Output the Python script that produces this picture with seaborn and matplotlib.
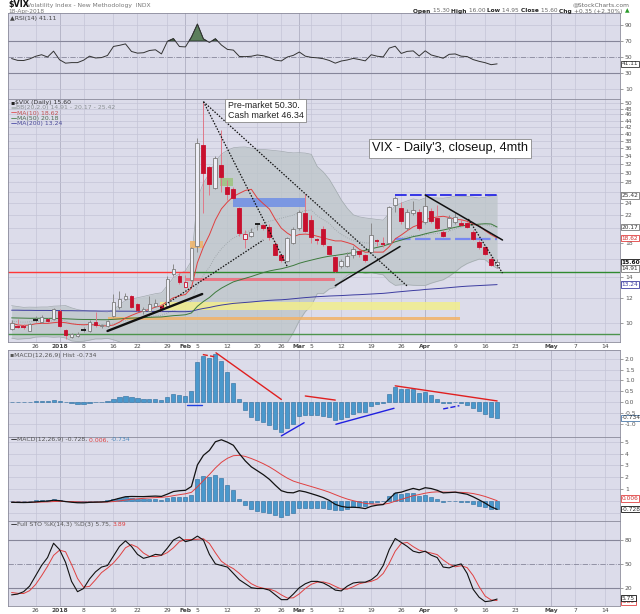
import numpy as np
import pandas as pd
import matplotlib
matplotlib.use("Agg")
import matplotlib.pyplot as plt
from matplotlib.ticker import NullLocator
import seaborn as sns

sns.set_style("white")
plt.rcParams['font.family'] = ['DejaVu Sans']

# ---------------- data (daily, 19 Dec 2017 .. 18 Apr 2018) ----------------
vix_open = [9.55, 9.76, 9.74, 9.45, 10.22, 10.05, 10.30, 10.30, 10.95, 9.50,
            9.05, 9.10, 9.50, 9.40, 10.10, 9.75, 9.75, 10.50, 11.20, 11.95,
            12.20, 11.50, 10.90, 10.95, 11.30, 11.35, 11.30, 14.30, 14.10, 13.05,
            13.70, 17.50, 36.70, 31.20, 26.90, 31.80, 27.00, 26.60, 23.20, 18.50,
            18.90, 20.55, 20.45, 20.20, 17.80, 16.40, 15.70, 17.90, 20.00, 22.30,
            21.20, 18.40, 19.90, 17.50, 16.20, 15.20, 15.20, 16.40, 16.90, 16.45,
            16.85, 18.25, 17.95, 17.90, 23.70, 23.20, 20.00, 22.40, 22.60, 21.00,
            22.70, 21.50, 19.50, 20.20, 21.00, 20.80, 20.80, 19.50, 18.10, 17.40,
            16.00, 15.30]
vix_high = [10.25, 10.30, 9.95, 10.00, 10.55, 10.60, 10.40, 11.15, 11.05, 9.55,
            9.30, 9.35, 9.70, 10.25, 10.85, 9.95, 10.25, 12.40, 12.60, 12.45,
            12.30, 11.60, 11.25, 12.20, 11.90, 11.45, 14.10, 15.35, 14.40, 14.20,
            17.45, 38.80, 50.30, 31.60, 34.00, 41.06, 28.40, 27.10, 23.30, 19.70,
            20.10, 20.80, 20.60, 20.60, 18.20, 16.60, 18.70, 20.20, 22.90, 25.72,
            22.00, 18.60, 20.40, 17.60, 16.30, 16.00, 16.80, 17.60, 17.10, 16.60,
            20.80, 18.50, 18.70, 23.50, 25.30, 24.20, 23.10, 24.50, 23.10, 25.50,
            23.20, 23.70, 19.80, 22.00, 22.60, 21.40, 21.00, 19.80, 18.40, 17.60,
            16.20, 16.00]
vix_low = [9.50, 9.65, 9.60, 9.40, 10.05, 10.00, 10.10, 10.25, 9.70, 8.92,
           8.95, 9.00, 9.35, 9.35, 9.70, 9.65, 9.70, 10.45, 11.10, 11.85,
           11.15, 10.95, 10.70, 10.90, 11.20, 10.95, 11.25, 14.10, 13.30, 13.00,
           13.60, 16.80, 22.42, 25.50, 26.60, 26.00, 24.60, 24.80, 18.90, 17.30,
           18.70, 19.80, 19.70, 18.40, 16.40, 15.60, 15.60, 17.80, 19.80, 19.40,
           17.90, 17.80, 17.60, 16.40, 14.50, 14.90, 15.10, 16.10, 16.20, 15.60,
           16.80, 17.50, 17.40, 17.80, 22.60, 20.60, 19.70, 22.00, 19.80, 20.70,
           20.80, 19.80, 18.70, 19.80, 20.70, 20.30, 20.10, 18.30, 17.20, 16.40,
           15.20, 14.95]
vix_close = [10.03, 9.72, 9.70, 9.90, 10.25, 10.47, 10.18, 11.04, 9.77, 9.15,
             9.22, 9.22, 9.52, 10.08, 9.82, 9.88, 10.16, 11.66, 11.91, 12.22,
             11.27, 11.03, 11.10, 11.47, 11.58, 11.08, 13.84, 14.79, 13.54, 13.47,
             17.31, 37.32, 29.98, 27.73, 33.46, 29.06, 25.61, 24.97, 19.26, 19.13,
             19.46, 20.60, 20.02, 18.72, 16.49, 15.80, 18.59, 19.85, 22.47, 19.59,
             18.73, 18.36, 17.76, 16.54, 14.64, 15.78, 16.35, 17.23, 16.59, 15.80,
             19.02, 18.20, 17.86, 23.34, 24.87, 21.03, 22.50, 22.87, 19.97, 23.62,
             21.10, 20.06, 18.94, 21.49, 21.77, 20.47, 20.24, 18.49, 17.41, 16.56,
             15.25, 15.60]

ma10 = [9.99, 9.86, 9.82, 9.85, 9.94, 9.97, 9.97, 10.02, 10.06, 10.02,
        9.94, 9.89, 9.87, 9.89, 9.85, 9.79, 9.79, 9.85, 10.06, 10.37,
        10.57, 10.76, 10.91, 11.05, 11.23, 11.35, 11.72, 12.03, 12.19, 12.32,
        12.92, 15.55, 17.44, 19.06, 21.25, 23.05, 24.23, 25.25, 25.82, 26.38,
        26.60, 24.93, 23.93, 23.03, 21.33, 20.01, 19.30, 18.79, 19.11, 19.16,
        19.09, 18.86, 18.64, 18.42, 18.23, 18.23, 18.01, 17.75, 17.16, 16.78,
        16.81, 16.79, 16.80, 17.48, 18.50, 19.03, 19.64, 20.21, 20.55, 21.33,
        21.54, 21.72, 21.83, 21.65, 21.34, 21.28, 21.05, 20.62, 20.36, 19.65,
        19.07, 18.62]
ma50 = [10.38, 10.37, 10.36, 10.35, 10.35, 10.35, 10.34, 10.35, 10.33, 10.31,
        10.29, 10.27, 10.26, 10.26, 10.25, 10.24, 10.24, 10.27, 10.30, 10.34,
        10.36, 10.38, 10.40, 10.42, 10.44, 10.45, 10.50, 10.55, 10.58, 10.62,
        10.76, 11.30, 11.70, 12.05, 12.52, 12.90, 13.21, 13.51, 13.69, 13.87,
        14.05, 14.26, 14.46, 14.63, 14.76, 14.87, 15.04, 15.23, 15.48, 15.67,
        15.84, 16.01, 16.17, 16.30, 16.39, 16.50, 16.62, 16.74, 16.88, 17.01,
        17.21, 17.39, 17.56, 17.82, 18.12, 18.34, 18.59, 18.81, 18.97, 19.20,
        19.40, 19.58, 19.74, 19.94, 20.14, 20.33, 20.46, 20.53, 20.61, 20.67,
        20.63, 20.18]
ma200 = [10.98, 10.98, 10.97, 10.97, 10.96, 10.96, 10.96, 10.95, 10.95, 10.94,
         10.94, 10.93, 10.93, 10.92, 10.92, 10.91, 10.91, 10.91, 10.90, 10.90,
         10.90, 10.89, 10.89, 10.88, 10.88, 10.87, 10.87, 10.87, 10.86, 10.86,
         10.89, 11.02, 11.12, 11.20, 11.31, 11.40, 11.47, 11.54, 11.58, 11.62,
         11.66, 11.71, 11.76, 11.80, 11.83, 11.85, 11.89, 11.94, 11.99, 12.04,
         12.08, 12.12, 12.15, 12.18, 12.20, 12.22, 12.25, 12.28, 12.30, 12.33,
         12.36, 12.39, 12.42, 12.47, 12.53, 12.58, 12.63, 12.68, 12.72, 12.78,
         12.82, 12.86, 12.90, 12.95, 13.00, 13.05, 13.09, 13.12, 13.15, 13.18,
         13.21, 13.24]
bb_mid = [10.15, 10.08, 10.06, 10.08, 10.12, 10.14, 10.14, 10.16, 10.18, 10.16,
          9.97, 9.88, 9.85, 9.87, 9.90, 9.88, 9.88, 9.94, 10.06, 10.20,
          10.26, 10.33, 10.39, 10.47, 10.54, 10.57, 10.76, 10.94, 11.13, 11.35,
          11.75, 13.16, 14.18, 15.06, 16.24, 17.20, 17.98, 18.64, 19.01, 19.35,
          19.76, 20.24, 20.69, 21.05, 21.29, 21.53, 21.77, 22.02, 22.47, 22.77,
          22.85, 21.90, 21.29, 20.73, 19.78, 19.12, 18.66, 18.27, 18.14, 17.97,
          17.95, 17.83, 17.72, 17.95, 18.37, 18.63, 18.83, 18.98, 18.86, 19.06,
          19.18, 19.26, 19.32, 19.57, 19.92, 20.16, 20.35, 20.42, 20.46, 20.49,
          20.31, 20.17]
bb_upper = [11.35, 11.28, 11.21, 11.23, 11.22, 11.24, 11.24, 11.31, 11.33, 11.36,
            11.17, 11.03, 10.95, 10.92, 10.90, 10.86, 10.82, 11.04, 11.41, 11.80,
            11.91, 12.03, 12.14, 12.27, 12.39, 12.47, 13.16, 13.94, 14.33, 14.65,
            15.75, 24.86, 27.88, 29.86, 32.54, 34.40, 35.38, 36.04, 36.21, 36.25,
            35.96, 35.64, 35.59, 35.45, 35.29, 35.13, 34.87, 34.72, 34.77, 34.67,
            34.35, 31.40, 30.19, 28.63, 26.58, 24.62, 23.16, 22.07, 21.74, 21.57,
            21.45, 21.33, 21.22, 22.35, 23.57, 24.03, 24.43, 24.78, 24.56, 24.96,
            24.98, 24.96, 24.92, 25.07, 25.32, 25.26, 25.25, 25.12, 24.96, 25.09,
            25.31, 25.42]
bb_lower = [8.95, 8.88, 8.91, 8.93, 9.02, 9.04, 9.04, 9.01, 9.03, 8.96,
            8.77, 8.73, 8.75, 8.82, 8.90, 8.90, 8.94, 8.84, 8.71, 8.60,
            8.61, 8.63, 8.64, 8.67, 8.69, 8.67, 8.36, 7.94, 7.93, 8.05,
            7.75, 1.46, 1.00, 1.00, 1.00, 1.00, 1.00, 1.24, 1.81, 2.45,
            3.56, 4.84, 5.79, 6.65, 7.29, 7.93, 8.67, 9.32, 10.17, 10.87,
            11.35, 12.40, 12.39, 12.83, 12.98, 13.62, 14.16, 14.47, 14.54, 14.37,
            14.45, 14.33, 14.22, 13.55, 13.17, 13.23, 13.23, 13.18, 13.16, 13.16,
            13.38, 13.56, 13.72, 14.07, 14.52, 15.06, 15.45, 15.72, 15.96, 15.89,
            15.31, 14.91]

rsi14 = [47.8, 45.5, 45.3, 47.3, 50.6, 52.6, 49.7, 57.1, 46.3, 42.0,
         42.7, 42.7, 45.7, 50.8, 48.5, 49.0, 51.7, 63.0, 64.4, 66.2,
         56.7, 54.6, 55.1, 57.9, 58.8, 53.6, 69.5, 72.9, 62.9, 62.4,
         74.7, 91.1, 72.5, 68.0, 72.7, 64.8, 59.3, 58.4, 50.4, 50.2,
         50.7, 52.3, 51.3, 49.2, 45.8, 44.8, 49.7, 51.8, 56.0, 50.8,
         49.3, 48.7, 47.6, 45.4, 42.0, 44.7, 46.0, 48.0, 46.6, 44.9,
         52.6, 50.7, 49.9, 60.9, 63.3, 54.2, 56.8, 57.4, 51.0, 57.5,
         52.3, 50.3, 48.2, 53.1, 53.6, 50.8, 50.3, 46.5, 44.3, 42.6,
         40.1, 41.11]

macd_line = [-0.133, -0.142, -0.150, -0.138, -0.099, -0.050, -0.034, 0.047, 0.009, -0.070,
             -0.126, -0.168, -0.175, -0.135, -0.122, -0.106, -0.069, 0.079, 0.215, 0.344,
             0.364, 0.357, 0.353, 0.376, 0.398, 0.371, 0.566, 0.787, 0.853, 0.888,
             1.212, 3.047, 3.863, 4.280, 5.016, 5.184, 4.982, 4.715, 3.998, 3.380,
             2.883, 2.551, 2.216, 1.825, 1.320, 0.854, 0.702, 0.675, 0.855, 0.757,
             0.603, 0.446, 0.270, 0.032, -0.306, -0.476, -0.559, -0.548, -0.583, -0.667,
             -0.469, -0.374, -0.323, 0.158, 0.655, 0.731, 0.899, 1.050, 0.926, 1.109,
             1.039, 0.889, 0.672, 0.697, 0.731, 0.646, 0.554, 0.335, 0.074, -0.199,
             -0.515, -0.728]
macd_signal = [-0.123, -0.127, -0.132, -0.131, -0.125, -0.110, -0.095, -0.066, -0.051, -0.055,
               -0.069, -0.089, -0.106, -0.112, -0.114, -0.112, -0.104, -0.067, -0.011, 0.060,
               0.121, 0.168, 0.205, 0.239, 0.271, 0.291, 0.346, 0.434, 0.518, 0.592,
               0.716, 1.182, 1.718, 2.230, 2.787, 3.266, 3.609, 3.830, 3.864, 3.767,
               3.590, 3.382, 3.149, 2.884, 2.571, 2.228, 1.923, 1.673, 1.510, 1.359,
               1.208, 1.056, 0.899, 0.726, 0.520, 0.321, 0.145, 0.006, -0.112, -0.223,
               -0.272, -0.292, -0.298, -0.207, -0.035, 0.118, 0.274, 0.429, 0.528, 0.644,
               0.723, 0.756, 0.739, 0.731, 0.731, 0.714, 0.682, 0.613, 0.505, 0.364,
               0.188, 0.006]
macd_hist = [-0.010, -0.015, -0.018, -0.007, 0.026, 0.060, 0.061, 0.113, 0.060, -0.015,
             -0.057, -0.079, -0.069, -0.023, -0.008, 0.006, 0.035, 0.146, 0.226, 0.284,
             0.243, 0.189, 0.148, 0.137, 0.127, 0.080, 0.220, 0.353, 0.335, 0.296,
             0.496, 1.865, 2.145, 2.050, 2.229, 1.918, 1.373, 0.885, 0.134, -0.387,
             -0.707, -0.831, -0.933, -1.059, -1.251, -1.374, -1.221, -0.998, -0.655, -0.602,
             -0.605, -0.610, -0.629, -0.694, -0.826, -0.797, -0.704, -0.554, -0.471, -0.444,
             -0.197, -0.082, -0.025, 0.365, 0.690, 0.613, 0.625, 0.621, 0.398, 0.465,
             0.316, 0.133, -0.067, -0.034, 0.000, -0.068, -0.128, -0.278, -0.431, -0.563,
             -0.703, -0.734]

sto_k = [11, 12, 15, 22, 35, 48, 58, 76, 68, 52,
         28, 15, 19, 31, 40, 46, 48, 60, 72, 79,
         72, 62, 57, 59, 62, 61, 70, 80, 84, 78,
         80, 85, 80, 62, 50, 48, 46, 38, 30, 25,
         20, 19, 19, 17, 11, 5, 5, 12, 20, 25,
         28, 28, 26, 22, 17, 16, 22, 26, 27, 27,
         30, 36, 48, 68, 82, 77, 72, 66, 64, 66,
         61, 58, 46, 45, 48, 50, 38, 18, 8, 2.5,
         3.4, 5.75]
sto_d = [14, 13, 12.7, 16.3, 24, 35, 47, 60.7, 67.3, 65.3,
         49.3, 31.7, 20.7, 21.7, 30, 39, 44.7, 51.3, 60, 70.3,
         74.3, 71, 63.7, 59.3, 59.3, 60.7, 64.3, 70.3, 78, 80.7,
         80.7, 81, 81.7, 75.7, 64, 53.3, 48, 44, 38, 31,
         25, 21.3, 19.3, 18.3, 15.7, 11, 7, 7.3, 12.3, 19,
         24.3, 27, 27.3, 25.3, 21.7, 18.3, 18.3, 21.3, 25, 26.7,
         28, 31, 38, 50.7, 66, 75.7, 77, 71.7, 67.3, 65.3,
         63.7, 61.7, 55, 49.7, 46.3, 47.7, 45.3, 35.3, 21.3, 9.5,
         4.6, 3.89]

# hand-drawn annotations (trading-day index, price)
trend_lines = [((32.0, 50.5), (46.0, 15.1), 'dot'),
               ((32.0, 50.5), (66.0, 13.1), 'dot'),
               ((16.0, 9.43), (31.8, 12.36), 'thick'),
               ((24.8, 11.16), (42.0, 18.35), 'dot'),
               ((54.0, 13.14), (64.8, 17.5), 'solid'),
               ((69.0, 25.5), (81.9, 18.35), 'solid'),
               ((76.2, 21.4), (81.9, 14.4), 'dot')]
zones = [(29.0, 54.0, 13.62, 13.92, '#f06a78'),
         (24.8, 74.8, 11.0, 11.7, '#f2ee8c'),
         (16.0, 74.8, 10.22, 10.42, '#f2b266'),
         (36.9, 49.0, 23.4, 24.9, '#6f8fe6'),
         (34.8, 36.9, 27.3, 28.9, '#9cc47e'),
         (29.8, 31.9, 17.3, 18.25, '#f0b466')]
hist_lines = [((29.2, -0.14), (31.8, -0.14), '#2040e0', '-'),
              ((31.9, 2.20), (33.8, 2.10), '#e02020', '--'),
              ((34.1, 2.28), (45.0, 0.12), '#e02020', '-'),
              ((45.0, -1.57), (48.8, -0.96), '#2020e0', '-'),
              ((49.0, 0.28), (54.0, 0.09), '#e02020', '-'),
              ((54.1, -1.03), (63.8, -0.29), '#2020e0', '-'),
              ((64.0, 0.75), (81.0, 0.05), '#e02020', '-'),
              ((72.0, -0.32), (74.7, -0.17), '#2020e0', '--')]

tick_dates = ['2017-12-26', '2018-01-02', '2018-01-08', '2018-01-16', '2018-01-22', '2018-01-29',
              '2018-02-01', '2018-02-05', '2018-02-12', '2018-02-20', '2018-02-26', '2018-03-01',
              '2018-03-05', '2018-03-12', '2018-03-19', '2018-03-26', '2018-04-02', '2018-04-09',
              '2018-04-16', '2018-04-23', '2018-05-01', '2018-05-07', '2018-05-14']
tick_labels = ['26', '2018', '8', '16', '22', '29', 'Feb', '5', '12', '20', '26', 'Mar',
               '5', '12', '19', '26', 'Apr', '9', '16', '23', 'May', '7', '14']
month_labels = ['2018', 'Feb', 'Mar', 'Apr', 'May']

# price axis labels (the ones hidden behind the value tags are left blank)
price_ticks = list(range(10, 51, 2))
price_hidden = [16, 20, 26]

# ---------------- layout ----------------
holidays = pd.to_datetime(["2017-12-25", "2018-01-01", "2018-01-15", "2018-02-19", "2018-03-30"])
days = pd.bdate_range("2017-12-19", "2018-05-18")
days = days[~days.isin(holidays)]
tick_pos = [days.get_loc(pd.Timestamp(d)) for d in tick_dates]
xs = np.arange(len(vix_close))
XLIM = (-0.6, 101.5)

BG = '#dcdcea'
GRID = '#c4c4d6'
MONTH = '#a6a6ba'

fig = plt.figure(figsize=(6.4, 6.14), dpi=100)
fig.patch.set_facecolor('white')


def panel(top, bottom):
    return fig.add_axes([8 / 640, 1 - bottom / 614, 612 / 640, (bottom - top) / 614])


def style(ax, ylim, yticks, ylabels, xlabels=False):
    ax.set_facecolor(BG)
    ax.set_xlim(*XLIM)
    ax.set_ylim(*ylim)
    for s in ax.spines.values():
        s.set_color('#8a8a9a')
        s.set_linewidth(0.6)
    ax.yaxis.tick_right()
    ax.set_yticks(yticks)
    ax.set_yticklabels(ylabels)
    ax.yaxis.set_minor_locator(NullLocator())
    ax.tick_params(axis='y', labelsize=4.3, length=2, width=0.4, pad=1.5,
                   colors='#555555', right=True, left=False)
    ax.set_xticks(tick_pos)
    ax.tick_params(axis='x', length=0, pad=1.2, labelsize=4.3, colors='#444444',
                   labelbottom=xlabels)
    if xlabels:
        ax.set_xticklabels(tick_labels)
        for t in ax.get_xticklabels():
            if t.get_text() in month_labels:
                t.set_fontweight('bold')
    for p, lab in zip(tick_pos, tick_labels):
        ax.axvline(p, color=MONTH if lab in month_labels else GRID, lw=0.5, zorder=0)
    ax.set_xlabel('')
    ax.set_ylabel('')


def sline(ax, y, color, lw, ls='-', z=3):
    sns.lineplot(x=xs, y=np.asarray(y), ax=ax, color=color, linewidth=lw,
                 linestyle=ls, zorder=z, legend=False, errorbar=None)


def chain(ax, x, y, parts, size=4.4, transform=None, right=False):
    # write coloured pieces of text one after the other
    renderer = fig.canvas.get_renderer()
    tr = transform if transform is not None else ax.transAxes
    seq = list(reversed(parts)) if right else parts
    for s, c, w in seq:
        t = ax.text(x, y, s, color=c, fontsize=size, fontweight=w, transform=tr,
                    va='center', ha='right' if right else 'left')
        bb = t.get_window_extent(renderer=renderer)
        x = tr.inverted().transform((bb.x0 if right else bb.x1, bb.y0))[0]


def value_box(ax, y, s, ec, tc='#333333', bold=False):
    ax.text(1.003, y, s, transform=ax.get_yaxis_transform(), fontsize=4.2,
            va='center', ha='left', color=tc, fontweight='bold' if bold else 'normal',
            bbox=dict(boxstyle='square,pad=0.12', fc='white', ec=ec, lw=0.6),
            clip_on=False, zorder=10)


# ---------------- RSI ----------------
ax_rsi = panel(13, 99)
style(ax_rsi, (-3, 105), [10, 30, 50, 70, 90], ['10', '30', '50', '70', '90'])
for v in (10, 90):
    ax_rsi.axhline(v, color=GRID, lw=0.5, zorder=0)
for v in (30, 70):
    ax_rsi.axhline(v, color='#86869a', lw=0.8, zorder=1)
ax_rsi.axhline(50, color='#86869a', lw=0.6, ls='-.', zorder=1)
rsi = np.asarray(rsi14)
ax_rsi.fill_between(xs, 70, rsi, where=rsi >= 70, interpolate=True,
                    color='#5c7f5c', edgecolor='#1e2e1e', lw=0.5, zorder=2)
sline(ax_rsi, rsi, '#333333', 0.7)
ax_rsi.set_ylim(-3, 105)
ax_rsi.text(0.004, 0.94, '\u25b2RSI(14) 41.11', transform=ax_rsi.transAxes,
            fontsize=4.4, color='#444444', va='center')
value_box(ax_rsi, 41.11, '41.11', '#333333')

# ---------------- price panel ----------------
ax = panel(99, 342)
ax.set_yscale('log')
style(ax, (8.7, 51.5), price_ticks,
      ['' if v in price_hidden else str(v) for v in price_ticks], xlabels=True)
for v in price_ticks:
    ax.axhline(v, color=GRID, lw=0.5, zorder=0)

ax.fill_between(xs, bb_lower, bb_upper, color='#bcc5c8', alpha=0.75, lw=0, zorder=1)
sline(ax, bb_upper, '#a2aaae', 0.5, z=1.5)
sline(ax, bb_lower, '#a2aaae', 0.5, z=1.5)
sline(ax, bb_mid, '#98a0a4', 0.6, ls=':', z=1.5)

for x0, x1, lo, hi, col in zones:
    ax.fill_between([x0, x1], [lo, lo], [hi, hi], color=col, alpha=0.85, lw=0, zorder=2)

ax.plot([XLIM[0], 29.8], [14.5, 14.5], color='#ff3636', lw=1.0, zorder=2.2)
ax.plot([29.8, XLIM[1]], [14.5, 14.5], color='#2f8a2f', lw=1.0, zorder=2.2)
ax.axhline(9.22, color='#4c944c', lw=1.0, zorder=2.2)
ax.plot([64, 81], [25.6, 25.6], color='#1a1ae6', lw=1.2, dashes=(7, 2), zorder=2.3)
ax.plot([64, 81], [18.45, 18.45], color='#7888f0', lw=1.6, dashes=(7, 2), zorder=2.3)

sline(ax, ma200, '#3c3ca0', 0.7, z=2.5)
sline(ax, ma50, '#3d7a3d', 0.7, z=2.5)
sline(ax, ma10, '#e04040', 0.7, z=2.5)

o = np.asarray(vix_open)
h = np.asarray(vix_high)
l = np.asarray(vix_low)
c = np.asarray(vix_close)
up = np.r_[True, c[1:] >= c[:-1]]
for i in xs:
    red = not up[i]
    col = '#c8102e' if red else '#7c7c7c'
    ax.vlines(i, l[i], h[i], color='#e07888' if red else '#8a8a8a', lw=0.7, zorder=3.5)
    lo, hi = min(o[i], c[i]), max(o[i], c[i])
    if hi / lo < 1.006:
        ax.hlines(c[i], i - 0.36, i + 0.36, color=col if red else '#111111', lw=1.3, zorder=4)
    else:
        face = col if c[i] < o[i] else '#eeeef6'
        ax.bar(i, hi - lo, bottom=lo, width=0.64, color=face, edgecolor=col,
               linewidth=0.6, zorder=4)

for (xa, ya), (xb, yb), kind in trend_lines:
    if kind == 'dot':
        ax.plot([xa, xb], [ya, yb], color='#111111', lw=0.9, dashes=(1.2, 1.2), zorder=5)
    elif kind == 'thick':
        ax.plot([xa, xb], [ya, yb], color='#111111', lw=1.7, zorder=5)
    else:
        ax.plot([xa, xb], [ya, yb], color='#111111', lw=1.1, zorder=5)

ax.text(0.359, 0.992, 'Pre-market 50.30.\nCash market 46.34', transform=ax.transAxes,
        fontsize=6.4, family=['Liberation Sans', 'DejaVu Sans'], va='top', ha='left',
        color='#222222', linespacing=1.15,
        bbox=dict(boxstyle='square,pad=0.25', fc='white', ec='#888888', lw=0.6), zorder=8)
ax.text(0.722, 0.797, "VIX - Daily'3, closeup, 4mth", transform=ax.transAxes,
        fontsize=9.2, family=['Liberation Sans', 'DejaVu Sans'], va='center', ha='center',
        color='#111111',
        bbox=dict(boxstyle='square,pad=0.25', fc='white', ec='#888888', lw=0.6), zorder=8)

chain(ax, 0.004, 0.984, [('\u25aa', '#222222', 'normal'), ('$VIX (Daily) 15.60', '#333333', 'normal')])
chain(ax, 0.004, 0.963, [('\u25ac', '#b0b8bb', 'normal'), ('BB(20,2.0) 14.91 - 20.17 - 25.42', '#8a9093', 'normal')])
chain(ax, 0.004, 0.942, [('\u2014', '#e04040', 'bold'), ('MA(10) 18.62', '#c05050', 'normal')])
chain(ax, 0.004, 0.921, [('\u2014', '#3d7a3d', 'bold'), ('MA(50) 20.18', '#4d6a4d', 'normal')])
chain(ax, 0.004, 0.900, [('\u2014', '#3c3ca0', 'bold'), ('MA(200) 13.24', '#4c4c9a', 'normal')])

value_box(ax, 25.42, '25.42', '#777777')
value_box(ax, 20.17, '20.17', '#777777')
value_box(ax, 18.62, '18.62', '#e04040', tc='#d03030')
value_box(ax, 15.60, '15.60', '#111111', tc='#111111', bold=True)
value_box(ax, 14.91, '14.91', '#777777')
value_box(ax, 13.24, '13.24', '#3c3ca0', tc='#3c3ca0')

# ---------------- MACD histogram ----------------
ax_h = panel(350, 437)
style(ax_h, (-1.62, 2.41), [-1.0, -0.5, 0.0, 0.5, 1.0, 1.5, 2.0],
      ['-1.0', '-0.5', '0.0', '0.5', '1.0', '1.5', '2.0'])
for v in [-1.0, -0.5, 0.0, 0.5, 1.0, 1.5, 2.0]:
    ax_h.axhline(v, color=GRID, lw=0.5, zorder=0)
ax_h.bar(xs, macd_hist, width=0.68, color='#4a98cc', edgecolor='#2a6a9c', linewidth=0.4, zorder=3)
for (xa, ya), (xb, yb), col, ls in hist_lines:
    ax_h.plot([xa, xb], [ya, yb], color=col, lw=1.0, ls=ls, zorder=4)
ax_h.text(0.004, 0.94, '\u25aaMACD(12,26,9) Hist -0.734', transform=ax_h.transAxes,
          fontsize=4.4, color='#555555', va='center')
value_box(ax_h, -0.734, '-0.734', '#4a78a8')

# ---------------- MACD lines ----------------
ax_m = panel(437, 521)
style(ax_m, (-1.72, 5.42), [1, 2, 3, 4, 5], ['1', '2', '3', '4', '5'])
for v in [-1, 0, 1, 2, 3, 4, 5]:
    ax_m.axhline(v, color=GRID, lw=0.5, zorder=0)
ax_m.bar(xs, macd_hist, width=0.68, color='#4a98cc', edgecolor='#2a6a9c', linewidth=0.4, zorder=2)
sline(ax_m, macd_signal, '#e04040', 0.7, z=3)
sline(ax_m, macd_line, '#111111', 0.9, z=4)
ax_m.set_ylim(-1.72, 5.42)
chain(ax_m, 0.004, 0.965, [('\u2014', '#111111', 'bold'), ('MACD(12,26,9) -0.728, ', '#555555', 'normal'),
                           ('0.006, ', '#e04040', 'normal'), ('-0.734', '#4a88bb', 'normal')])
value_box(ax_m, 0.2, '0.006', '#e04040', tc='#d03030')
value_box(ax_m, -0.72, '-0.728', '#111111')

# ---------------- Full stochastic ----------------
ax_s = panel(521, 606)
style(ax_s, (-3, 104), [20, 50, 80], ['20', '50', '80'], xlabels=True)
for v in (20, 80):
    ax_s.axhline(v, color='#86869a', lw=0.8, zorder=1)
ax_s.axhline(50, color='#86869a', lw=0.6, ls='-.', zorder=1)
sline(ax_s, sto_d, '#e04040', 0.7, z=3)
sline(ax_s, sto_k, '#111111', 0.8, z=4)
ax_s.set_ylim(-3, 104)
chain(ax_s, 0.004, 0.955, [('\u2014', '#111111', 'bold'), ('Full STO %K(14,3) %D(3) 5.75, ', '#555555', 'normal'),
                           ('3.89', '#e04040', 'normal')])
value_box(ax_s, 2.5, '3.89', '#e04040', tc='#d03030')
value_box(ax_s, 7.0, '5.75', '#111111')

# ---------------- header ----------------
fig.text(8 / 640, 1 - 5 / 614, '$VIX', fontsize=5.8, fontweight='bold', color='#111111', va='center')
fig.text(27 / 640, 1 - 5 / 614, 'Volatility Index - New Methodology  INDX', fontsize=4.3,
         color='#777777', va='center')
fig.text(8 / 640, 1 - 11 / 614, '18-Apr-2018', fontsize=4.2, color='#777777', va='center')
fig.text(630 / 640, 1 - 5 / 614, '@StockCharts.com', fontsize=4.3, color='#666666',
         va='center', ha='right')
chain(ax_rsi, 629 / 640, 1 - 11 / 614,
      [('Open ', '#222222', 'bold'), ('15.30 ', '#666666', 'normal'),
       ('High ', '#222222', 'bold'), ('16.00 ', '#666666', 'normal'),
       ('Low ', '#222222', 'bold'), ('14.95 ', '#666666', 'normal'),
       ('Close ', '#222222', 'bold'), ('15.60 ', '#666666', 'normal'),
       ('Chg ', '#222222', 'bold'), ('+0.35 (+2.30%) ', '#666666', 'normal'),
       ('\u25b2', '#2a9a2a', 'normal')], size=4.2, transform=fig.transFigure, right=True)

fig.savefig('out.png', dpi=100)
